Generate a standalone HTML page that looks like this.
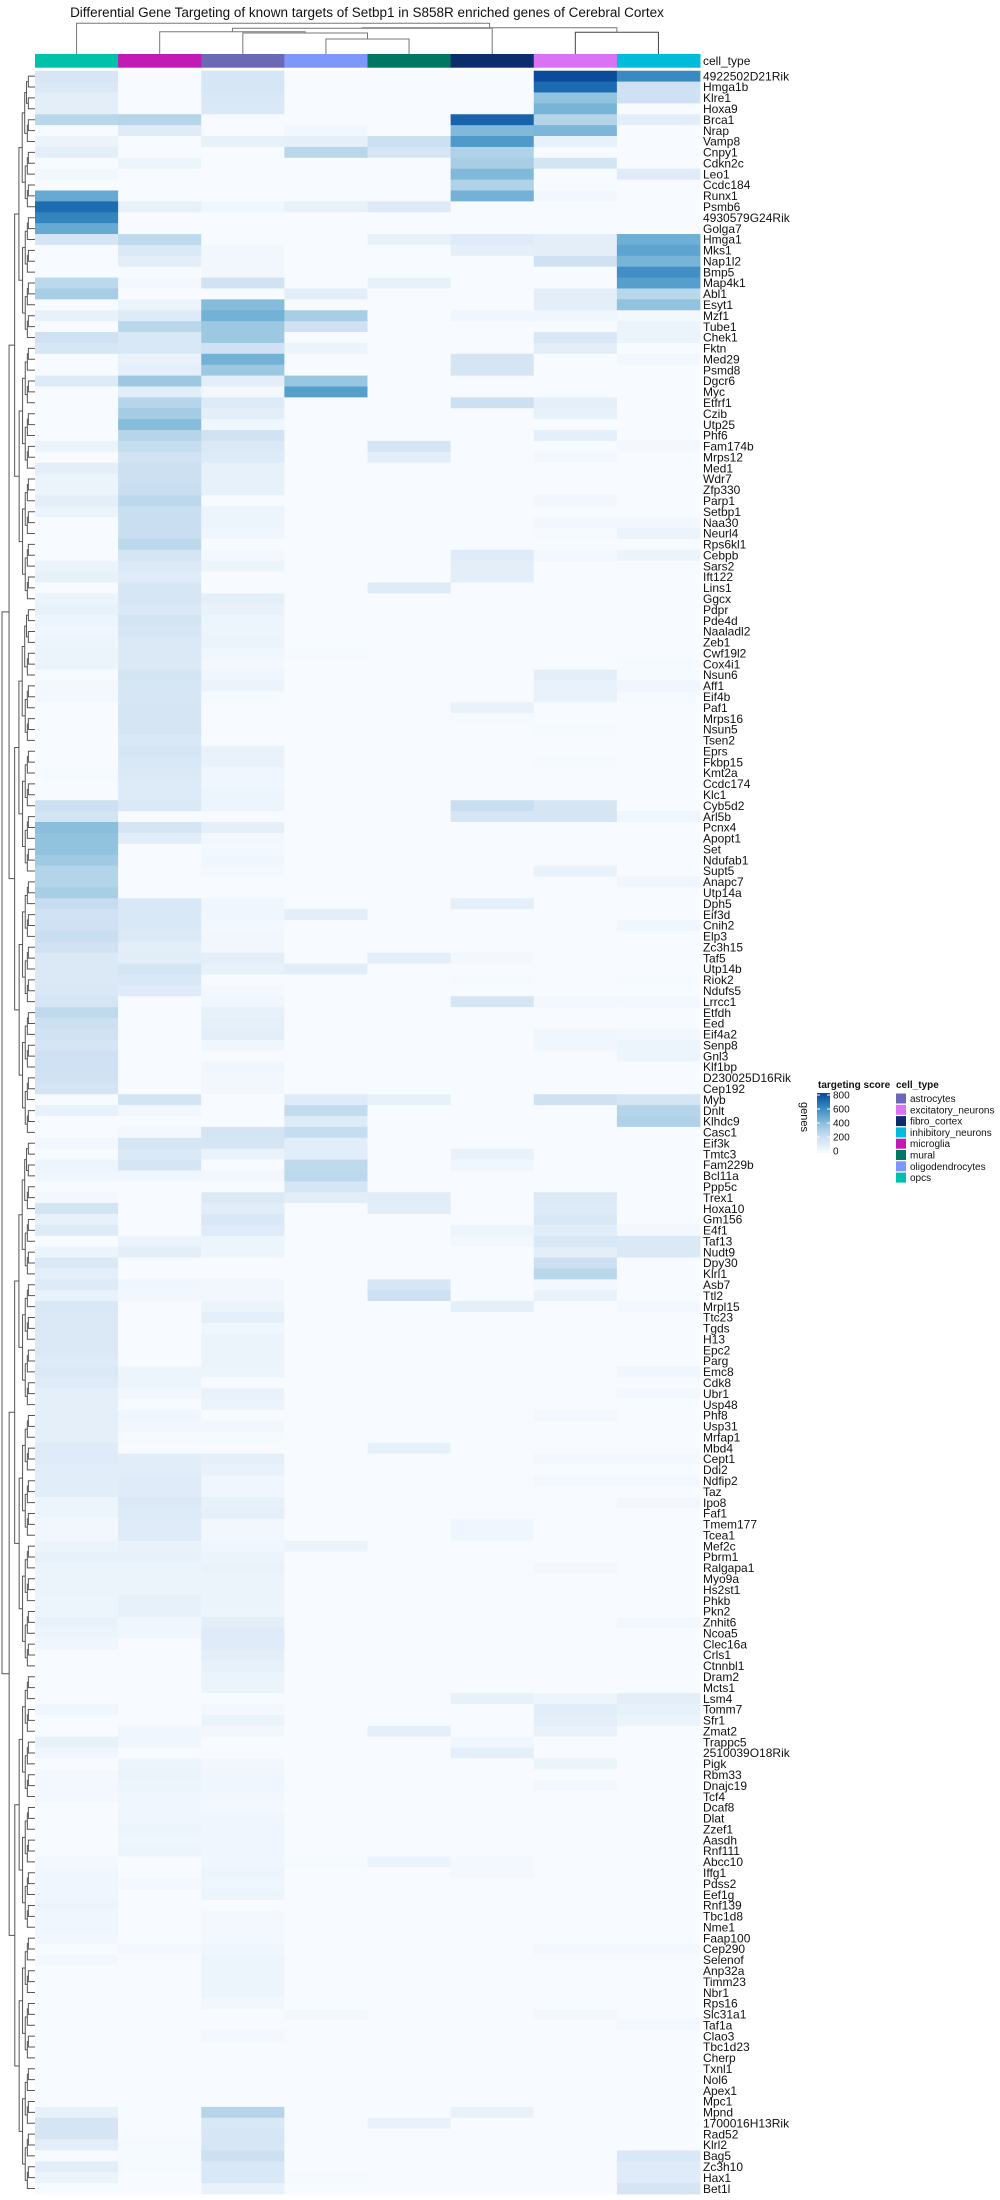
<!DOCTYPE html>
<html><head><meta charset="utf-8"><title>Setbp1 targeting heatmap</title>
<style>
html,body{margin:0;padding:0;background:#fff;}
svg{display:block;font-family:"Liberation Sans",Arial,sans-serif;}
</style></head>
<body>
<svg id="chart" width="1000" height="2200" viewBox="0 0 1000 2200" xmlns="http://www.w3.org/2000/svg">
<text x="367" y="17" font-size="13.5" text-anchor="middle" fill="#111">Differential Gene Targeting of known targets of Setbp1 in S858R enriched genes of Cerebral Cortex</text>
<g id="coldend"></g>
<g id="annot"></g>
<text x="703" y="65" font-size="12" fill="#111">cell_type</text>
<g id="rowdend"></g>
<g id="cells"></g>
<g id="labels"></g>
<g id="legend"></g>
</svg>
<script>
const cellTypes = ["opcs","microglia","astrocytes","oligodendrocytes","mural","fibro_cortex","excitatory_neurons","inhibitory_neurons"];
const legendTypes = ["astrocytes","excitatory_neurons","fibro_cortex","inhibitory_neurons","microglia","mural","oligodendrocytes","opcs"];
const typeColors = {astrocytes:"#6B69B5",excitatory_neurons:"#DA72F5",fibro_cortex:"#0B2D6E",inhibitory_neurons:"#00BCDB",microglia:"#C21AB5",mural:"#007763",oligodendrocytes:"#7E97FA",opcs:"#00C1AA"};
const scoreTicks = [0,200,400,600,800];
const genes = ["4922502D21Rik","Hmga1b","Klre1","Hoxa9","Brca1","Nrap","Vamp8","Cnpy1","Cdkn2c","Leo1","Ccdc184","Runx1","Psmb6","4930579G24Rik","Golga7","Hmga1","Mks1","Nap1l2","Bmp5","Map4k1","Abl1","Esyt1","Mzf1","Tube1","Chek1","Fktn","Med29","Psmd8","Dgcr6","Myc","Etfrf1","Czib","Utp25","Phf6","Fam174b","Mrps12","Med1","Wdr7","Zfp330","Parp1","Setbp1","Naa30","Neurl4","Rps6kl1","Cebpb","Sars2","Ift122","Lins1","Ggcx","Pdpr","Pde4d","Naaladl2","Zeb1","Cwf19l2","Cox4i1","Nsun6","Aff1","Eif4b","Paf1","Mrps16","Nsun5","Tsen2","Eprs","Fkbp15","Kmt2a","Ccdc174","Klc1","Cyb5d2","Arl5b","Pcnx4","Apopt1","Set","Ndufab1","Supt5","Anapc7","Utp14a","Dph5","Eif3d","Cnih2","Elp3","Zc3h15","Taf5","Utp14b","Riok2","Ndufs5","Lrrcc1","Etfdh","Eed","Eif4a2","Senp8","Gnl3","Klf1bp","D230025D16Rik","Cep192","Myb","Dnlt","Klhdc9","Casc1","Eif3k","Tmtc3","Fam229b","Bcl11a","Ppp5c","Trex1","Hoxa10","Gm156","E4f1","Taf13","Nudt9","Dpy30","Klrl1","Asb7","Ttl2","Mrpl15","Ttc23","Tgds","H13","Epc2","Parg","Emc8","Cdk8","Ubr1","Usp48","Phf8","Usp31","Mrfap1","Mbd4","Cept1","Ddi2","Ndfip2","Taz","Ipo8","Faf1","Tmem177","Tcea1","Mef2c","Pbrm1","Ralgapa1","Myo9a","Hs2st1","Phkb","Pkn2","Znhit6","Ncoa5","Clec16a","Crls1","Ctnnbl1","Dram2","Mcts1","Lsm4","Tomm7","Sfr1","Zmat2","Trappc5","2510039O18Rik","Pigk","Rbm33","Dnajc19","Tcf4","Dcaf8","Dlat","Zzef1","Aasdh","Rnf111","Abcc10","Iffg1","Pdss2","Eef1g","Rnf139","Tbc1d8","Nme1","Faap100","Cep290","Selenof","Anp32a","Timm23","Nbr1","Rps16","Slc31a1","Taf1a","Clao3","Tbc1d23","Cherp","Txnl1","Nol6","Apex1","Mpc1","Mpnd","1700016H13Rik","Rad52","Klrl2","Bag5","Zc3h10","Hax1","Bet1l"];
const scores = [
[160,0,160,0,0,0,790,600],[140,0,160,0,0,0,700,200],[100,0,150,0,0,0,380,200],[100,0,140,0,0,0,440,0],
[270,280,0,0,0,720,290,100],[0,120,0,30,0,420,430,0],[60,0,80,90,210,540,80,0],[100,0,0,270,160,300,0,0],
[0,50,0,0,0,320,180,0],[30,0,0,0,0,420,0,120],[0,0,0,0,0,300,0,0],[480,0,0,0,0,450,30,0],
[690,80,40,80,130,0,0,0],[620,0,0,0,0,0,0,0],[480,0,0,0,0,0,0,0],[170,250,0,0,80,120,100,460],
[0,140,30,0,0,90,100,500],[0,100,30,0,0,0,200,440],[0,0,30,0,0,0,0,580],[260,20,190,0,80,0,0,520],
[320,0,0,100,0,0,100,270],[0,60,410,0,0,0,100,380],[80,130,450,320,0,40,40,20],[0,270,350,200,0,0,0,60],
[200,150,350,0,0,0,150,60],[160,150,200,60,0,0,100,0],[0,70,450,0,0,170,0,30],[0,90,350,0,0,170,0,0],
[130,350,100,360,0,0,0,0],[0,110,20,520,0,0,0,0],[0,280,130,0,0,210,90,0],[0,330,100,0,0,0,80,0],
[0,410,40,0,0,0,0,0],[0,280,190,0,0,0,90,0],[60,230,140,0,170,0,0,20],[0,190,130,0,100,0,20,0],
[100,210,80,0,0,0,0,0],[60,210,80,0,0,0,0,0],[60,220,80,0,0,0,0,0],[100,260,0,0,0,0,30,0],
[60,220,50,0,0,0,0,0],[0,220,50,0,0,0,30,30],[0,220,40,0,0,0,10,60],[0,260,0,0,0,0,0,0],
[0,170,20,0,0,120,20,60],[60,140,50,0,0,100,0,0],[80,120,0,0,0,100,0,0],[0,160,0,0,120,0,0,0],
[60,160,90,0,0,0,0,0],[80,140,70,0,0,0,0,0],[50,180,50,0,0,0,0,0],[40,160,50,0,0,0,0,0],
[50,140,60,0,0,0,0,0],[60,140,40,10,0,0,0,0],[60,140,20,0,0,0,0,10],[0,180,40,0,0,0,100,10],
[20,160,60,0,0,0,70,40],[20,160,10,0,0,0,70,10],[0,170,0,0,0,70,0,0],[0,170,0,0,0,10,0,0],
[0,170,0,0,0,0,10,0],[0,150,0,0,0,0,0,0],[0,170,70,0,0,0,0,0],[0,150,70,0,0,0,10,0],
[10,140,40,0,0,0,0,0],[0,130,40,0,0,0,0,0],[0,130,50,0,0,0,0,0],[210,140,50,0,0,220,170,0],
[180,0,0,0,0,170,170,40],[400,170,90,0,0,0,0,0],[380,110,30,0,0,0,0,0],[380,0,20,0,0,0,0,0],
[340,0,40,0,0,0,0,0],[290,0,20,0,0,0,70,0],[290,0,0,0,0,0,0,40],[320,0,0,0,0,0,0,0],
[230,150,40,0,0,90,0,0],[190,150,40,100,0,0,0,0],[200,150,20,0,0,0,0,40],[220,140,30,0,0,0,0,0],
[190,100,30,0,0,0,0,0],[140,110,100,0,100,20,0,0],[140,180,80,110,0,0,0,0],[140,150,0,0,0,10,0,10],
[150,120,20,0,0,0,0,0],[170,0,40,0,0,170,20,20],[250,0,80,0,0,0,0,0],[210,0,90,0,0,0,0,0],
[190,0,100,0,0,0,40,30],[170,0,40,0,0,0,40,50],[200,0,0,0,0,0,0,50],[200,0,40,0,0,0,0,0],
[190,0,30,0,0,0,0,0],[170,0,30,0,0,0,0,0],[0,180,0,120,80,0,200,170],[80,30,0,240,0,0,0,280],
[0,0,0,130,0,0,0,300],[0,20,180,230,0,0,0,0],[30,170,170,110,0,0,0,0],[0,140,70,110,0,70,0,0],
[50,170,0,250,0,40,0,0],[40,40,30,260,0,0,0,0],[0,0,0,160,0,0,0,0],[20,0,140,110,110,0,140,0],
[180,0,110,0,110,0,130,0],[80,0,150,0,0,0,150,0],[130,0,120,0,0,50,110,20],[0,60,50,0,0,30,150,140],
[60,100,50,0,0,0,100,140],[140,0,0,0,0,0,210,0],[100,0,0,0,0,0,270,0],[130,40,30,0,160,0,20,0],
[70,30,30,0,210,0,70,0],[150,0,60,0,0,90,0,20],[140,0,90,0,0,0,0,0],[140,0,40,0,0,0,0,0],
[140,0,60,0,0,0,0,0],[140,0,60,0,0,0,0,0],[130,0,60,0,0,0,0,0],[140,50,50,0,0,0,0,40],
[120,50,0,0,0,0,0,0],[90,30,70,0,0,0,0,20],[90,0,60,0,0,0,0,0],[90,40,0,0,0,0,20,0],
[90,30,30,0,0,0,0,0],[90,10,10,0,0,0,0,0],[120,0,0,0,80,0,0,0],[120,110,90,0,0,0,20,20],
[110,110,70,0,0,0,0,0],[110,120,40,0,0,0,20,20],[110,120,40,0,0,0,0,0],[50,140,80,0,0,0,0,30],
[50,130,90,0,0,0,0,0],[30,120,30,0,0,40,0,0],[30,120,30,0,0,40,0,0],[60,70,40,60,0,0,0,0],
[80,80,60,0,0,0,0,0],[60,60,70,0,0,0,20,0],[60,60,60,0,0,0,0,0],[60,60,60,0,0,0,0,0],
[50,80,60,0,0,0,0,0],[50,80,50,0,0,0,0,0],[70,40,100,0,0,0,0,30],[50,40,120,0,0,0,0,0],
[40,0,120,0,0,0,0,0],[0,0,100,0,0,0,0,0],[0,0,80,0,0,0,0,0],[0,0,60,0,0,0,0,0],
[0,0,60,0,0,0,0,0],[0,0,0,0,0,80,50,100],[40,0,20,0,0,0,110,80],[0,0,60,0,0,0,100,60],
[0,40,30,0,90,0,70,0],[80,40,0,0,0,40,0,0],[40,0,0,0,0,90,0,0],[0,50,30,0,0,0,60,0],
[20,60,40,0,0,0,0,0],[20,50,40,0,0,0,20,0],[20,40,30,0,0,0,0,0],[0,40,20,0,0,0,0,0],
[0,40,40,0,0,0,0,0],[0,50,40,0,0,0,0,0],[0,40,40,0,0,0,0,0],[0,50,40,0,0,0,0,0],
[20,0,40,10,60,20,0,0],[40,0,50,0,0,20,0,0],[40,20,40,0,0,0,0,0],[40,0,50,0,0,0,0,0],
[50,0,0,0,0,0,0,0],[40,0,20,0,0,0,0,0],[40,0,20,0,0,0,0,0],[30,0,20,0,0,0,0,0],
[0,20,40,0,0,0,20,20],[20,0,50,0,0,0,0,0],[0,0,50,0,0,0,0,0],[0,0,50,0,0,0,0,0],
[0,0,50,0,0,0,0,0],[0,0,30,0,0,0,0,0],[0,0,0,20,0,0,20,0],[0,0,0,0,0,0,0,20],
[0,0,20,0,0,0,0,0],[0,0,0,0,0,0,0,0],[0,0,0,0,0,0,0,0],[0,0,0,0,0,0,0,0],
[0,0,0,0,0,0,0,0],[0,0,0,0,0,0,0,0],[0,0,0,0,0,0,0,0],[80,0,280,0,0,70,0,0],
[170,0,150,0,70,0,0,0],[170,0,160,0,0,0,0,0],[100,10,160,0,0,0,0,0],[0,10,210,0,0,0,0,150],
[100,10,150,0,0,0,0,120],[60,0,150,10,0,0,0,120],[0,0,70,0,0,0,0,170]
];

const NS = "http://www.w3.org/2000/svg";
const HX0 = 35, HX1 = 700, HY0 = 70.7, HY1 = 2194;
const colW = (HX1 - HX0) / cellTypes.length;
const rowH = (HY1 - HY0) / genes.length;
function xPos(i){ return HX0 + i * colW; }
function yPos(i){ return HY0 + i * rowH; }
const stops = [[0,[247,251,255]],[100,[227,238,249]],[200,[207,225,242]],[300,[176,210,232]],[400,[137,190,220]],[500,[93,164,208]],[600,[58,138,194]],[700,[28,106,175]],[800,[8,71,154]]];
function colorScale(v){
  v = Math.max(0, Math.min(800, v));
  for (let k = 1; k < stops.length; k++){
    if (v <= stops[k][0]){
      const a = stops[k-1], b = stops[k], t = (v - a[0]) / (b[0] - a[0]);
      const c = a[1].map((q, j) => Math.round(q + (b[1][j] - q) * t));
      return "rgb(" + c.join(",") + ")";
    }
  }
  return "rgb(8,71,154)";
}
function mk(tag, attrs, parent){
  const e = document.createElementNS(NS, tag);
  for (const k in attrs) e.setAttribute(k, attrs[k]);
  parent.appendChild(e);
  return e;
}

// annotation bar
const annot = document.getElementById("annot");
cellTypes.forEach((t, i) => {
  const r = mk("rect", {x: xPos(i), y: 54, width: colW + 0.5, height: 13.7, fill: typeColors[t]}, annot);
  
  
});

// cells
const cells = document.getElementById("cells");
scores.forEach((row, ri) => {
  row.forEach((v, ci) => {
    const r = mk("rect", {x: xPos(ci), y: yPos(ri), width: colW + 0.4, height: rowH + 0.4, fill: colorScale(v)}, cells);
    
    
  });
});

// gene labels
const labels = document.getElementById("labels");
genes.forEach((g, i) => {
  const t = mk("text", {x: 703, y: yPos(i) + rowH / 2 + 4.2, "font-size": 12, fill: "#111"}, labels);
  t.textContent = g;
  
  
});

// column dendrogram
const cd = document.getElementById("coldend");
function colC(i){ return xPos(i) + colW / 2; }
function uLink(xa, ya, xb, yb, yTop, parent, stroke){
  mk("path", {d: "M" + xa + "," + ya + "V" + yTop + "H" + xb + "V" + yb, fill: "none", stroke: stroke, "stroke-width": 1}, parent);
}
const bot = 54;
const xOM = (colC(3) + colC(4)) / 2;
uLink(colC(3), bot, colC(4), bot, 39, cd, "#777");
const xA = (colC(2) + xOM) / 2;
uLink(colC(2), bot, xOM, 39, 33, cd, "#777");
const xM = (colC(1) + xA) / 2;
uLink(colC(1), bot, xA, 33, 31.7, cd, "#777");
const xF = (xM + colC(5)) / 2;
uLink(xM, 31.7, colC(5), bot, 28.3, cd, "#777");
const xEI = (colC(6) + colC(7)) / 2;
uLink(colC(6), bot, colC(7), bot, 32.3, cd, "#444");
const xR = (xF + xEI) / 2;
uLink(xF, 28.3, xEI, 32.3, 27.7, cd, "#777");
uLink(colC(0), bot, xR, 27.7, 23.3, cd, "#777");

// row dendrogram (simplified balanced tree over row order)
const rd = document.getElementById("rowdend");
function rowNode(lo, hi){
  const n = hi - lo + 1;
  if (n === 1) return {y: yPos(lo) + rowH / 2, x: 35};
  const mid = Math.floor((lo + hi) / 2);
  const a = rowNode(lo, mid), b = rowNode(mid + 1, hi);
  const x = 35 - 33 * Math.pow(n / genes.length, 0.35);
  mk("path", {d: "M" + a.x + "," + a.y + "H" + x + "V" + b.y + "H" + b.x, fill: "none", stroke: "#555", "stroke-width": 1}, rd);
  return {y: (a.y + b.y) / 2, x: x};
}
rowNode(0, genes.length - 1);

// legend
const lg = document.getElementById("legend");
let t = mk("text", {x: 818, y: 1088, "font-size": 10, "font-weight": "bold", fill: "#111"}, lg);
t.textContent = "targeting score";


const defs = mk("defs", {}, lg);
const grad = mk("linearGradient", {id: "g1", x1: 0, y1: 1, x2: 0, y2: 0}, defs);
for (let v = 0; v <= 800; v += 100){
  mk("stop", {offset: v / 800, "stop-color": colorScale(v)}, grad);
}
const cbar = mk("rect", {x: 817, y: 1093, width: 13, height: 60, fill: "url(#g1)"}, lg);


scoreTicks.forEach(v => {
  const y = 1153 - v / 800 * 56 - 2;
  mk("line", {x1: 817, x2: 820, y1: y, y2: y, stroke: "#fff", "stroke-width": 1}, lg);
  mk("line", {x1: 827, x2: 830, y1: y, y2: y, stroke: "#fff", "stroke-width": 1}, lg);
  const tt = mk("text", {x: 833, y: y + 3.5, "font-size": 10, fill: "#111"}, lg);
  tt.textContent = v;
  
  
});
t = mk("text", {x: 801, y: 1117, "font-size": 11, fill: "#111", "text-anchor": "middle", transform: "rotate(90 801 1117)"}, lg);
t.textContent = "genes";


t = mk("text", {x: 896, y: 1088, "font-size": 10, "font-weight": "bold", fill: "#111"}, lg);
t.textContent = "cell_type";


legendTypes.forEach((ty, k) => {
  const y = 1093.5 + k * 11.3;
  const sq = mk("rect", {x: 896, y: y, width: 10, height: 10, fill: typeColors[ty]}, lg);
  
  
  const lt = mk("text", {x: 910, y: y + 8.5, "font-size": 10, fill: "#111"}, lg);
  lt.textContent = ty;
  
  
});
</script>
</body></html>
